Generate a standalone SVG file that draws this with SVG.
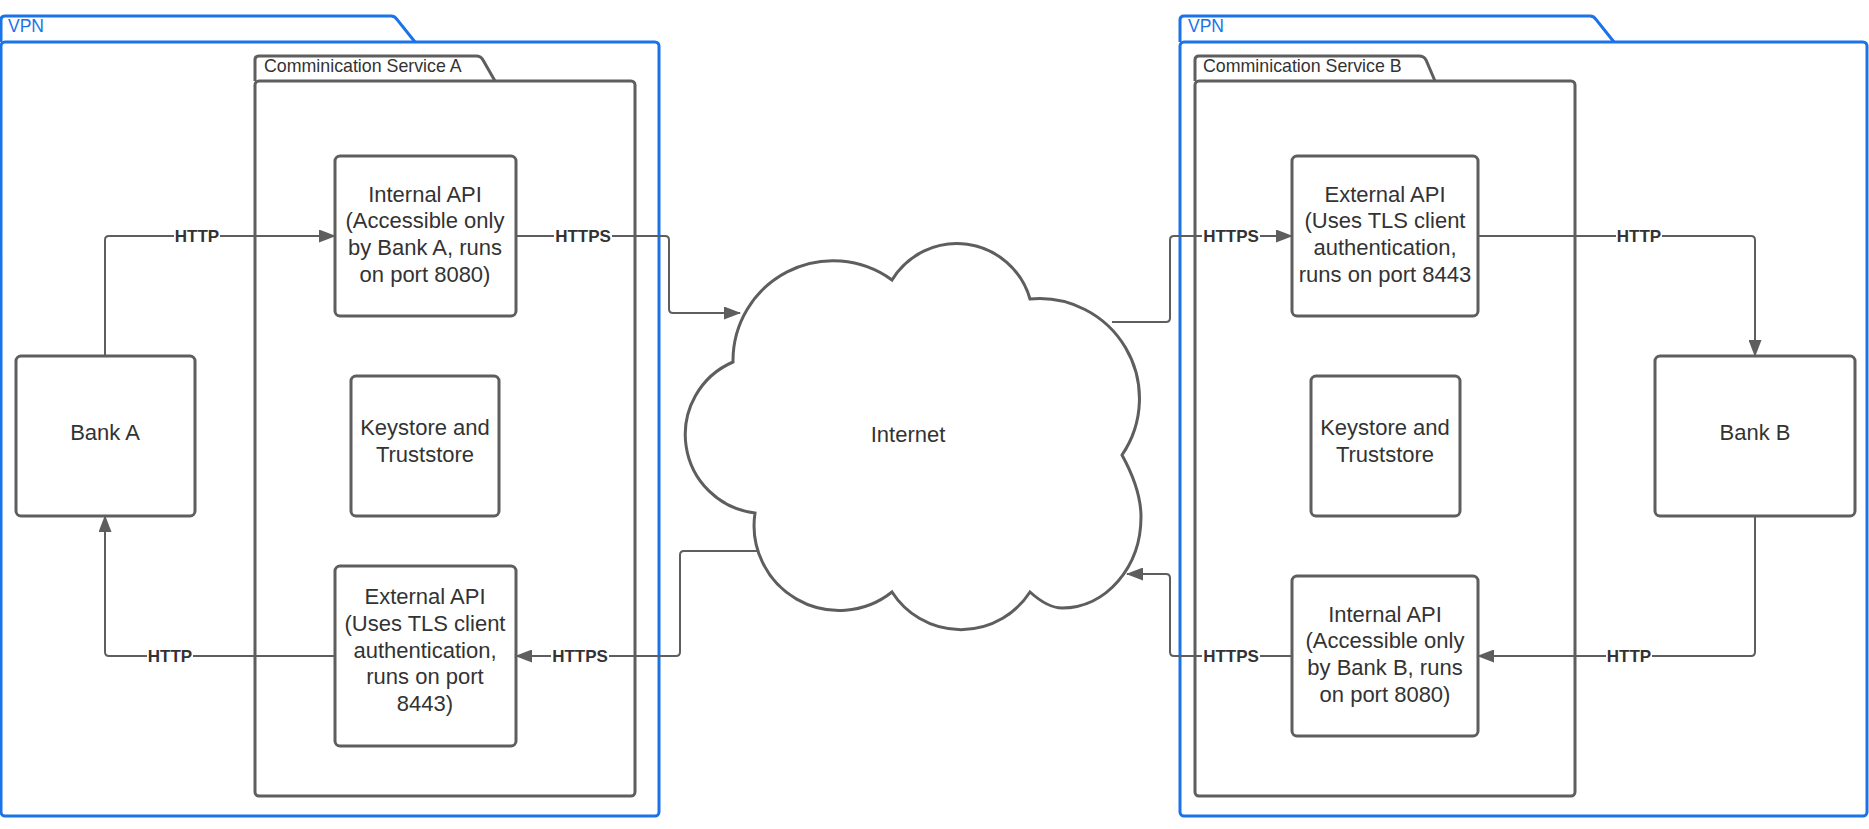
<svg xmlns="http://www.w3.org/2000/svg" width="1869" height="829" viewBox="0 0 1869 829">
  <style>
    .vpn { fill: none; stroke: #1a73e8; stroke-width: 3; }
    .vpn-label { font-family: "Liberation Sans", Arial, sans-serif; font-size: 17.5px; fill: #1a73e8; }
    .svc { fill: none; stroke: #5e5e5e; stroke-width: 3; }
    .svc-label { font-family: "Liberation Sans", Arial, sans-serif; font-size: 17.8px; fill: #333333; }
    .box { fill: #ffffff; stroke: #5e5e5e; stroke-width: 3; }
    .txt { font-family: "Liberation Sans", Arial, sans-serif; font-size: 22px; fill: #333333; text-anchor: middle; }
    .edge { fill: none; stroke: #5e5e5e; stroke-width: 2; }
    .lbl-bg { fill: #ffffff; }
    .lbl { font-family: "Liberation Sans", Arial, sans-serif; font-size: 17px; font-weight: bold; fill: #333333; text-anchor: middle; dominant-baseline: central; }
  </style>
  <defs>
    <marker id="arrow" markerUnits="userSpaceOnUse" markerWidth="17" markerHeight="13" viewBox="0 0 17 13" refX="16" refY="6.5" orient="auto">
      <path d="M0,0 L17,6.5 L0,13 Z" fill="#5e5e5e"/>
    </marker>
  </defs>

  <rect x="0" y="0" width="1869" height="829" fill="#ffffff"/>

  <!-- VPN containers -->
  <g id="vpn-a">
    <path class="vpn" d="M1,42 V20 Q1,16 5,16 H391 Q395,16 397,19.5 L415,42"/>
    <rect class="vpn" x="1" y="42" width="658" height="774" rx="4"/>
    <text class="vpn-label" x="8" y="32">VPN</text>
  </g>
  <g id="vpn-b">
    <path class="vpn" d="M1180,42 V20 Q1180,16 1184,16 H1590 Q1594,16 1596,19.5 L1614,42"/>
    <rect class="vpn" x="1180" y="42" width="687" height="774" rx="4"/>
    <text class="vpn-label" x="1188" y="32">VPN</text>
  </g>

  <!-- Communication service packages -->
  <g id="service-a">
    <path class="svc" d="M255,81 V60 Q255,56 259,56 H476 Q481,56 483,60 L495,81"/>
    <rect class="svc" x="255" y="81" width="380" height="715" rx="4"/>
    <text class="svc-label" x="264" y="72">Comminication Service A</text>
  </g>
  <g id="service-b">
    <path class="svc" d="M1195,81 V60 Q1195,56 1199,56 H1419 Q1424,56 1426,60 L1435,81"/>
    <rect class="svc" x="1195" y="81" width="380" height="715" rx="4"/>
    <text class="svc-label" x="1203" y="72">Comminication Service B</text>
  </g>

  <!-- Bank A -->
  <g id="bank-a">
    <rect class="box" x="16" y="356" width="179" height="160" rx="5"/>
    <text class="txt" x="105" y="440">Bank A</text>
  </g>

  <!-- Service A nodes -->
  <g id="internal-api-a">
    <rect class="box" x="335" y="156" width="181" height="160" rx="5"/>
    <text class="txt" x="425" y="202">Internal API</text>
    <text class="txt" x="425" y="228">(Accessible only</text>
    <text class="txt" x="425" y="255">by Bank A, runs</text>
    <text class="txt" x="425" y="282">on port 8080)</text>
  </g>
  <g id="keystore-a">
    <rect class="box" x="351" y="376" width="148" height="140" rx="5"/>
    <text class="txt" x="425" y="435">Keystore and</text>
    <text class="txt" x="425" y="462">Truststore</text>
  </g>
  <g id="external-api-a">
    <rect class="box" x="335" y="566" width="181" height="180" rx="5"/>
    <text class="txt" x="425" y="604">External API</text>
    <text class="txt" x="425" y="631">(Uses TLS client</text>
    <text class="txt" x="425" y="658">authentication,</text>
    <text class="txt" x="425" y="684">runs on port</text>
    <text class="txt" x="425" y="711">8443)</text>
  </g>

  <!-- Internet cloud -->
  <g id="internet">
    <path class="box" d="M733,362 A100,100 0 0,1 892,280 A76,76 0 0,1 1030,299 A100,100 0 0,1 1122,455 C1133,475 1141,495 1141,517 C1141,567 1106,608 1062,608 C1050,608 1040,601 1030,592 A82,82 0 0,1 892,592 A85,85 0 0,1 755,513 A79,79 0 0,1 733,362 Z"/>
    <text class="txt" x="908" y="442">Internet</text>
  </g>

  <!-- Service B nodes -->
  <g id="external-api-b">
    <rect class="box" x="1292" y="156" width="186" height="160" rx="5"/>
    <text class="txt" x="1385" y="202">External API</text>
    <text class="txt" x="1385" y="228">(Uses TLS client</text>
    <text class="txt" x="1385" y="255">authentication,</text>
    <text class="txt" x="1385" y="282">runs on port 8443</text>
  </g>
  <g id="keystore-b">
    <rect class="box" x="1311" y="376" width="149" height="140" rx="5"/>
    <text class="txt" x="1385" y="435">Keystore and</text>
    <text class="txt" x="1385" y="462">Truststore</text>
  </g>
  <g id="internal-api-b">
    <rect class="box" x="1292" y="576" width="186" height="160" rx="5"/>
    <text class="txt" x="1385" y="622">Internal API</text>
    <text class="txt" x="1385" y="648">(Accessible only</text>
    <text class="txt" x="1385" y="675">by Bank B, runs</text>
    <text class="txt" x="1385" y="702">on port 8080)</text>
  </g>

  <!-- Bank B -->
  <g id="bank-b">
    <rect class="box" x="1655" y="356" width="200" height="160" rx="5"/>
    <text class="txt" x="1755" y="440">Bank B</text>
  </g>

  <!-- Connectors -->
  <g id="connectors">
    <path class="edge" marker-end="url(#arrow)" d="M105,356 V240 Q105,236 109,236 H335"/>
    <path class="edge" marker-end="url(#arrow)" d="M516,236 H665 Q669,236 669,240 V309 Q669,313 673,313 H740"/>
    <path class="edge" marker-end="url(#arrow)" d="M757,551 H684 Q680,551 680,555 V652 Q680,656 676,656 H516"/>
    <path class="edge" marker-end="url(#arrow)" d="M335,656 H109 Q105,656 105,652 V516"/>
    <path class="edge" marker-end="url(#arrow)" d="M1112,322 H1166 Q1170,322 1170,318 V240 Q1170,236 1174,236 H1292"/>
    <path class="edge" marker-end="url(#arrow)" d="M1478,236 H1751 Q1755,236 1755,240 V356"/>
    <path class="edge" marker-end="url(#arrow)" d="M1755,516 V652 Q1755,656 1751,656 H1478"/>
    <path class="edge" marker-end="url(#arrow)" d="M1292,656 H1174 Q1170,656 1170,652 V578 Q1170,574 1166,574 H1127"/>

    <!-- edge labels -->
    <rect class="lbl-bg" x="174" y="228" width="46" height="16"/>
    <text class="lbl" x="197" y="236">HTTP</text>
    <rect class="lbl-bg" x="554" y="228" width="58" height="16"/>
    <text class="lbl" x="583" y="236">HTTPS</text>
    <rect class="lbl-bg" x="551" y="648" width="58" height="16"/>
    <text class="lbl" x="580" y="656">HTTPS</text>
    <rect class="lbl-bg" x="147" y="648" width="46" height="16"/>
    <text class="lbl" x="170" y="656">HTTP</text>
    <rect class="lbl-bg" x="1202" y="228" width="58" height="16"/>
    <text class="lbl" x="1231" y="236">HTTPS</text>
    <rect class="lbl-bg" x="1616" y="228" width="46" height="16"/>
    <text class="lbl" x="1639" y="236">HTTP</text>
    <rect class="lbl-bg" x="1606" y="648" width="46" height="16"/>
    <text class="lbl" x="1629" y="656">HTTP</text>
    <rect class="lbl-bg" x="1202" y="648" width="58" height="16"/>
    <text class="lbl" x="1231" y="656">HTTPS</text>
  </g>
</svg>
